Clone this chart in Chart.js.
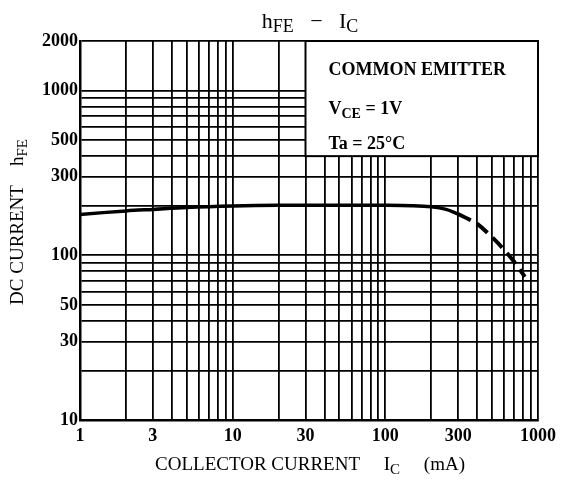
<!DOCTYPE html>
<html>
<head>
<meta charset="utf-8">
<script src="https://cdn.jsdelivr.net/npm/chart.js@4.4.1/dist/chart.umd.min.js"></script>
<style>
  html, body { margin: 0; padding: 0; background: #fff; }
  #wrap { width: 562px; height: 488px; }
</style>
</head>
<body>
<div id="wrap"><canvas id="hfeCanvas" width="562" height="488"></canvas></div>
<script>
// hFE - IC curve
const currentSolid = [1, 2, 3, 5, 10, 20, 50, 100, 150, 200, 250, 300];
const hfeSolid     = [177, 186, 190, 195, 199, 201, 201, 201, 200, 197, 190, 178];
const currentDash  = [300, 350, 400, 500, 600, 700, 820];
const hfeDash      = [178, 166, 155, 129, 108, 91, 74];

// tick labels and grid lines
const xTickLabels = [1, 3, 10, 30, 100, 300, 1000];
const yTickLabels = [10, 30, 50, 100, 300, 500, 1000, 2000];
const xGridValues = [1, 2, 3, 4, 5, 6, 7, 8, 9, 10, 20, 30, 40, 50, 60, 70, 80, 90,
                     100, 200, 300, 400, 500, 600, 700, 800, 900, 1000];
const yGridValues = [10, 20, 30, 40, 50, 60, 70, 80, 90, 100, 200, 300, 400, 500,
                     600, 700, 800, 900, 1000, 2000];

const SERIF = '"Liberation Serif", "Times New Roman", serif';
const tickFont = { family: SERIF, size: 18, weight: 'bold' };

// text with subscripts: parts = [text, font, dy]
function partsWidth(ctx, parts) {
  let w = 0;
  parts.forEach(p => { ctx.font = p[1]; w += ctx.measureText(p[0]).width; });
  return w;
}
function drawParts(ctx, parts, x, y) {
  let cx = x;
  parts.forEach(p => {
    ctx.font = p[1];
    ctx.fillText(p[0], cx, y + p[2]);
    cx += ctx.measureText(p[0]).width;
  });
}

const big = '22px ' + SERIF;
const small = '18px ' + SERIF;
const lab = '19px ' + SERIF;
const labSub = '15px ' + SERIF;
const boxBold = 'bold 18px ' + SERIF;
const boxSub = 'bold 14px ' + SERIF;

const decor = {
  id: 'decor',
  beforeDatasetsDraw(chart) {
    // condition box in the upper right, covers the grid
    const ctx = chart.ctx;
    const xs = chart.scales.x, ys = chart.scales.y;
    const left = xs.getPixelForValue(30);
    const right = chart.chartArea.right;
    const top = chart.chartArea.top;
    const bottom = ys.getPixelForValue(400);
    ctx.save();
    ctx.fillStyle = '#fff';
    ctx.fillRect(left, top, right - left, bottom - top);
    ctx.strokeStyle = '#000';
    ctx.lineWidth = 2;
    ctx.strokeRect(left, top, right - left, bottom - top);

    ctx.fillStyle = '#000';
    ctx.textBaseline = 'alphabetic';
    const tx = left + 23;
    drawParts(ctx, [['COMMON EMITTER', boxBold, 0]], tx, top + 34);
    drawParts(ctx, [['V', boxBold, 0], ['CE', boxSub, 4], [' = 1V', boxBold, 0]], tx, top + 73);
    drawParts(ctx, [['Ta = 25°C', boxBold, 0]], tx, top + 108);
    ctx.restore();
  },
  afterDraw(chart) {
    const ctx = chart.ctx;
    ctx.save();
    ctx.fillStyle = '#000';
    ctx.textBaseline = 'alphabetic';

    // title
    const title = [['h', big, 0], ['FE', small, 4], ['   \u2212   ', big, 0], ['I', big, 0], ['C', small, 4]];
    let w = partsWidth(ctx, title);
    drawParts(ctx, title, 310 - w / 2, 28);

    // x axis title
    const xt = [['COLLECTOR CURRENT', lab, 0], ['     I', lab, 0], ['C', labSub, 4], ['     (mA)', lab, 0]];
    w = partsWidth(ctx, xt);
    drawParts(ctx, xt, 310 - w / 2, 470);

    // y axis title (rotated)
    const yt = [['DC CURRENT', lab, 0], ['    h', lab, 0], ['FE', labSub, 4]];
    w = partsWidth(ctx, yt);
    ctx.translate(23, 222);
    ctx.rotate(-Math.PI / 2);
    drawParts(ctx, yt, -w / 2, 0);
    ctx.restore();
  }
};

const ctx = document.getElementById('hfeCanvas').getContext('2d');
const hfeChart = new Chart(ctx, {
  type: 'line',
  data: {
    datasets: [
      {
        data: currentSolid.map((c, i) => ({ x: c, y: hfeSolid[i] })),
        borderColor: '#000',
        borderWidth: 3.5,
        pointRadius: 0,
        tension: 0.35,
        fill: false
      },
      {
        data: currentDash.map((c, i) => ({ x: c, y: hfeDash[i] })),
        borderColor: '#000',
        borderWidth: 4,
        borderDash: [14, 7],
        pointRadius: 0,
        tension: 0.35,
        fill: false
      }
    ]
  },
  options: {
    responsive: false,
    animation: false,
    devicePixelRatio: 1,
    layout: { padding: { top: 41, right: 21, left: 0, bottom: 0 } },
    plugins: {
      legend: { display: false },
      title: { display: false },
      tooltip: { enabled: false }
    },
    scales: {
      x: {
        type: 'logarithmic',
        min: 1,
        max: 1000,
        afterBuildTicks: s => { s.ticks = xGridValues.map(v => ({ value: v })); },
        afterFit: s => { s.height = 68; },
        ticks: {
          autoSkip: false,
          maxRotation: 0,
          minRotation: 0,
          padding: 6,
          color: '#000',
          font: tickFont,
          callback: v => xTickLabels.includes(v) ? String(v) : ''
        },
        grid: { color: '#000', lineWidth: 1.8, drawTicks: false },
        border: { color: '#000', width: 2.5 }
      },
      y: {
        type: 'logarithmic',
        min: 10,
        max: 2000,
        afterBuildTicks: s => { s.ticks = yGridValues.map(v => ({ value: v })); },
        afterFit: s => { s.width = 80; },
        ticks: {
          autoSkip: false,
          padding: 2,
          color: '#000',
          font: tickFont,
          callback: v => yTickLabels.includes(v) ? String(v) : ''
        },
        grid: { color: '#000', lineWidth: 1.8, drawTicks: false },
        border: { color: '#000', width: 2.5 }
      }
    }
  },
  plugins: [decor]
});
</script>
</body>
</html>
